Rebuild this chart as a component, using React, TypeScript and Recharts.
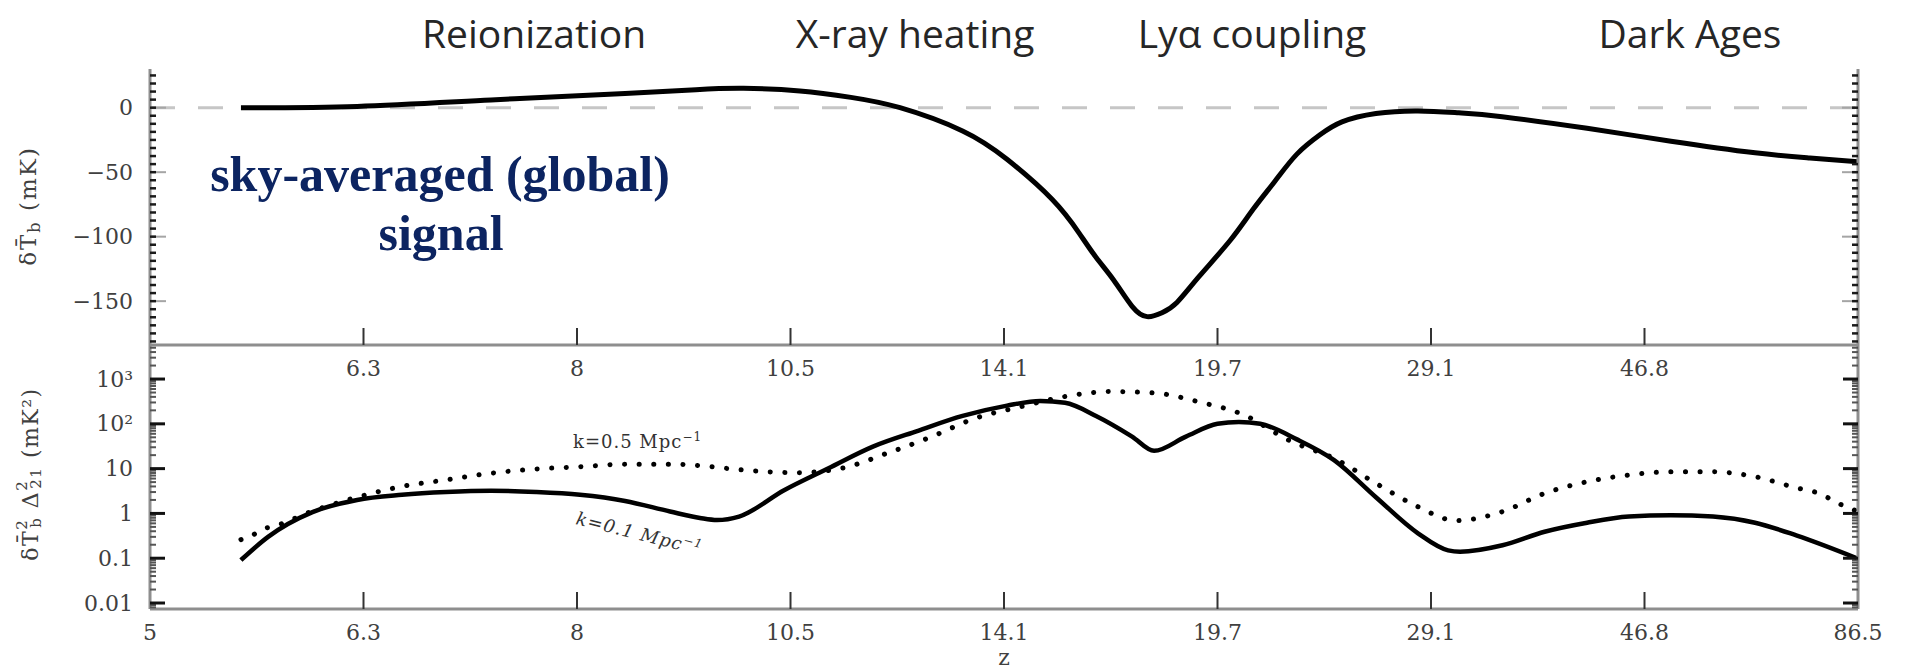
import React from 'react';
import { LineChart, Line, XAxis, YAxis, ReferenceLine } from 'recharts';

// ---------- axis categories / tick labels ----------
const Z_POS = [0, 1, 2, 3, 4, 5, 6, 7, 8];
const Z_LABELS = ['5', '6.3', '8', '10.5', '14.1', '19.7', '29.1', '46.8', '86.5'];
const TOP_Y_MAJOR = [0, -50, -100, -150];
const TOP_Y_LABELS = ['0', '\u221250', '\u2212100', '\u2212150'];
const BOT_Y_MAJOR = [0.01, 0.1, 1, 10, 100, 1000];
const BOT_Y_LABELS = ['0.01', '0.1', '1', '10', '10\u00B2', '10\u00B3'];
const PHASES = ['Reionization', 'X-ray heating', 'Ly\u03B1 coupling', 'Dark Ages'];

// ---------- series: sky-averaged brightness temperature (mK) ----------
const globalPos = [0.426, 0.97, 1.597, 2.225, 2.557, 2.78, 3.044, 3.283, 3.513, 3.806, 4.014, 4.225, 4.351, 4.431, 4.515, 4.6, 4.67, 4.74, 4.81, 4.913, 5.059, 5.166, 5.269, 5.372, 5.48, 5.583, 5.742, 5.939, 6.13, 6.333, 6.731, 7.124, 7.518, 7.775, 8.0];
const globalT = [0, 1, 6, 11, 14, 15, 13, 8, 0, -18, -40, -71, -97, -116, -134, -154, -162, -159, -151, -131, -103, -79, -57, -36, -21, -11, -4.5, -2.5, -4, -7, -16, -26, -35, -39, -42];

// ---------- series: power spectrum k=0.1 Mpc^-1 (mK^2) ----------
const k01Pos = [0.426, 0.553, 0.761, 0.97, 1.18, 1.386, 1.597, 1.808, 2.014, 2.225, 2.436, 2.576, 2.656, 2.759, 2.97, 3.178, 3.386, 3.597, 3.806, 4.014, 4.17, 4.286, 4.431, 4.6, 4.703, 4.852, 5.0, 5.1, 5.2, 5.372, 5.546, 5.742, 5.939, 6.08, 6.136, 6.335, 6.532, 6.731, 6.927, 7.124, 7.321, 7.518, 7.714, 7.995];
const k01Val = [0.091, 0.30, 1.07, 2.0, 2.6, 3.0, 3.2, 3.0, 2.6, 1.9, 1.1, 0.79, 0.71, 0.85, 3.3, 10.2, 31, 70, 150, 255, 325, 295, 150, 52, 25, 52, 100, 110, 100, 45, 15.5, 2.3, 0.36, 0.15, 0.14, 0.195, 0.39, 0.62, 0.85, 0.91, 0.85, 0.62, 0.32, 0.10];

// ---------- series: power spectrum k=0.5 Mpc^-1 (mK^2) ----------
const k05Pos = [0.426, 0.482, 0.525, 0.571, 0.759, 0.97, 1.18, 1.386, 1.597, 1.808, 2.014, 2.225, 2.436, 2.576, 2.759, 3.03, 3.241, 3.452, 3.658, 3.869, 4.077, 4.286, 4.496, 4.703, 4.913, 5.124, 5.33, 5.562, 5.742, 5.939, 6.117, 6.335, 6.532, 6.731, 6.927, 7.124, 7.321, 7.518, 7.714, 7.808, 7.93, 8.0];
const k05Val = [0.26, 0.33, 0.45, 0.50, 1.12, 2.3, 4.0, 5.6, 7.9, 9.8, 11, 12.6, 12.6, 11.7, 9.5, 8.1, 10.2, 22, 51, 135, 240, 407, 525, 490, 309, 158, 44, 15.5, 4.7, 1.41, 0.69, 1.10, 2.8, 5.1, 7.2, 8.5, 8.5, 6.6, 3.7, 2.9, 1.5, 1.1];

const globalData = globalPos.map((u, i) => ({ u, t: globalT[i] }));
const k01Data = k01Pos.map((u, i) => ({ u, p: k01Val[i] }));
const k05Data = k05Pos.map((u, i) => ({ u, p: k05Val[i] }));

// ---------- axes setup ----------
const TOP_DOMAIN: [number, number] = [-184, 30];
const BOT_DOMAIN: [number, number] = [0.00735, 5754];

const topTicks: number[] = [];
for (let v = -181.25; v <= 25.01; v += 6.25) topTicks.push(Math.round(v * 100) / 100);
const botTicks: number[] = [];
for (let d = -3; d <= 3; d++) {
  for (let m = 1; m <= 9; m++) {
    const v = m * Math.pow(10, d);
    if (v >= BOT_DOMAIN[0] && v <= BOT_DOMAIN[1]) botTicks.push(v);
  }
}

const SERIF = '"DejaVu Serif", "Liberation Serif", serif';
const LBL = '#404040';
const BORDER = '#8e8e8e';

const isDecade = (v: number) => Math.abs(Math.log10(v) - Math.round(Math.log10(v))) < 1e-6;
const decadeIndex = (v: number) => BOT_Y_MAJOR.findIndex((m) => Math.abs(m - v) / m < 1e-6);

function TopLeftTick(props: any) {
  const { x, y, payload } = props;
  const i = TOP_Y_MAJOR.indexOf(payload.value);
  const major = i >= 0;
  return (
    <g>
      {major && <line x1={x} y1={y} x2={x + 16} y2={y} stroke="#a5a5a5" strokeWidth={2} />}
      <line x1={x} y1={y} x2={x + 6} y2={y} stroke="#1a1a1a" strokeWidth={2.5} />
      {major && (
        <text x={x - 17} y={y} textAnchor="end" dominantBaseline="central" fontFamily={SERIF} fontSize={22} fill={LBL}>
          {TOP_Y_LABELS[i]}
        </text>
      )}
    </g>
  );
}
function TopRightTick(props: any) {
  const { x, y, payload } = props;
  const major = TOP_Y_MAJOR.indexOf(payload.value) >= 0;
  return (
    <g>
      {major && <line x1={x} y1={y} x2={x - 16} y2={y} stroke="#a5a5a5" strokeWidth={2} />}
      <line x1={x} y1={y} x2={x - 6} y2={y} stroke="#1a1a1a" strokeWidth={2.5} />
    </g>
  );
}
function BotLeftTick(props: any) {
  const { x, y, payload } = props;
  const v = payload.value;
  const major = isDecade(v);
  const i = major ? decadeIndex(v) : -1;
  return (
    <g>
      <line x1={x} y1={y} x2={x + (major ? 15 : 6)} y2={y} stroke={major ? '#111' : '#555'} strokeWidth={major ? 3 : 2} />
      {i >= 0 && (
        <text x={x - 17} y={y} textAnchor="end" dominantBaseline="central" fontFamily={SERIF} fontSize={22} fill={LBL}>
          {BOT_Y_LABELS[i]}
        </text>
      )}
    </g>
  );
}
function BotRightTick(props: any) {
  const { x, y, payload } = props;
  const major = isDecade(payload.value);
  return <line x1={x} y1={y} x2={x - (major ? 15 : 6)} y2={y} stroke={major ? '#111' : '#555'} strokeWidth={major ? 3 : 2} />;
}
function makeXTick(showEnds: boolean) {
  return function XTick(props: any) {
    const { x, y, payload } = props;
    const i = Z_POS.indexOf(payload.value);
    const inner = i > 0 && i < Z_POS.length - 1;
    return (
      <g>
        {inner && <line x1={x} y1={y} x2={x} y2={y - 17} stroke="#333" strokeWidth={2} />}
        {(inner || showEnds) && (
          <text x={x} y={y + 23} textAnchor="middle" dominantBaseline="central" fontFamily={SERIF} fontSize={22} fill={LBL}>
            {Z_LABELS[i]}
          </text>
        )}
      </g>
    );
  };
}
const TopXTick = makeXTick(false);
const BotXTick = makeXTick(true);

export default function App() {
  return (
    <div style={{ position: 'absolute', left: 0, top: 0, width: 1910, height: 669, background: '#fff', overflow: 'hidden' }}>
      {/* Top panel: global signal */}
      <div style={{ position: 'absolute', left: 0, top: 0 }}>
        <LineChart width={1910} height={400} margin={{ top: 69, right: 0, bottom: 0, left: 0 }}>
          <XAxis
            type="number"
            dataKey="u"
            domain={[0, 8]}
            ticks={Z_POS}
            interval={0}
            height={55}
            tickSize={0}
            tickMargin={0}
            tickLine={false}
            axisLine={{ stroke: BORDER, strokeWidth: 3 }}
            tick={<TopXTick />}
            allowDataOverflow
          />
          <XAxis xAxisId="top" orientation="top" type="number" domain={[0, 8]} height={0} tick={false} tickLine={false} axisLine={{ stroke: BORDER, strokeWidth: 3 }} allowDataOverflow />
          <YAxis
            type="number"
            domain={TOP_DOMAIN}
            ticks={topTicks}
            interval={0}
            width={150}
            tickSize={0}
            tickMargin={0}
            tickLine={false}
            axisLine={{ stroke: BORDER, strokeWidth: 3 }}
            tick={<TopLeftTick />}
            allowDataOverflow
          />
          <YAxis
            yAxisId="r"
            orientation="right"
            type="number"
            domain={TOP_DOMAIN}
            ticks={topTicks}
            interval={0}
            width={52}
            tickSize={0}
            tickMargin={0}
            tickLine={false}
            axisLine={{ stroke: BORDER, strokeWidth: 3 }}
            tick={<TopRightTick />}
            allowDataOverflow
          />
          <ReferenceLine y={0} stroke="#c6c6c6" strokeWidth={3} strokeDasharray="25 23" />
          <Line data={globalData} dataKey="t" type="natural" stroke="#000" strokeWidth={5} dot={false} isAnimationActive={false} />
        </LineChart>
      </div>

      {/* Bottom panel: power spectrum */}
      <div style={{ position: 'absolute', left: 0, top: 0 }}>
        <LineChart width={1910} height={669} margin={{ top: 345, right: 0, bottom: 0, left: 0 }}>
          <XAxis
            type="number"
            dataKey="u"
            domain={[0, 8]}
            ticks={Z_POS}
            interval={0}
            height={60}
            tickSize={0}
            tickMargin={0}
            tickLine={false}
            axisLine={{ stroke: BORDER, strokeWidth: 3 }}
            tick={<BotXTick />}
            allowDataOverflow
          />
          <XAxis xAxisId="top" orientation="top" type="number" domain={[0, 8]} height={0} tick={false} tickLine={false} axisLine={{ stroke: BORDER, strokeWidth: 3 }} allowDataOverflow />
          <YAxis
            type="number"
            scale="log"
            domain={BOT_DOMAIN}
            ticks={botTicks}
            interval={0}
            width={150}
            tickSize={0}
            tickMargin={0}
            tickLine={false}
            axisLine={{ stroke: BORDER, strokeWidth: 3 }}
            tick={<BotLeftTick />}
            allowDataOverflow
          />
          <YAxis
            yAxisId="r"
            orientation="right"
            type="number"
            scale="log"
            domain={BOT_DOMAIN}
            ticks={botTicks}
            interval={0}
            width={52}
            tickSize={0}
            tickMargin={0}
            tickLine={false}
            axisLine={{ stroke: BORDER, strokeWidth: 3 }}
            tick={<BotRightTick />}
            allowDataOverflow
          />
          <Line data={k05Data} dataKey="p" type="monotone" stroke="#000" strokeWidth={5} strokeLinecap="round" strokeDasharray="0.1 14.5" dot={false} isAnimationActive={false} />
          <Line data={k01Data} dataKey="p" type="monotone" stroke="#000" strokeWidth={4.5} dot={false} isAnimationActive={false} />
        </LineChart>
      </div>

      {/* Text overlay */}
      <svg width={1910} height={669} style={{ position: 'absolute', left: 0, top: 0, pointerEvents: 'none' }}>
        {PHASES.map((p, i) => (
          <text key={p} x={[534, 915, 1252, 1690][i]} y={48} textAnchor="middle" fontFamily='"Open Sans", sans-serif' fontSize={39} fill="#262626">
            {p}
          </text>
        ))}
        <text x={440} y={191} textAnchor="middle" fontFamily='"Liberation Serif", serif' fontWeight="bold" fontSize={50} fill="#0c2461">
          sky-averaged (global)
        </text>
        <text x={441} y={250} textAnchor="middle" fontFamily='"Liberation Serif", serif' fontWeight="bold" fontSize={50} fill="#0c2461">
          signal
        </text>
        <text transform="translate(28,206) rotate(-90)" textAnchor="middle" dominantBaseline="central" fontFamily={SERIF} fontSize={23} letterSpacing={2} fill={LBL}>
          {'\u03B4T\u0304'}
          <tspan fontSize={16} dy={6}>b</tspan>
          <tspan dy={-6}> (mK)</tspan>
        </text>
        <text transform="translate(30,474) rotate(-90)" textAnchor="middle" dominantBaseline="central" fontFamily={SERIF} fontSize={22} letterSpacing={1.5} fill={LBL}>
          {'\u03B4T\u0304'}
          <tspan fontSize={15} dy={-8}>2</tspan>
          <tspan fontSize={15} dx={-9} dy={14}>b</tspan>
          <tspan dy={-6}> {'\u0394'}</tspan>
          <tspan fontSize={15} dy={-8}>2</tspan>
          <tspan fontSize={15} dx={-9} dy={14}>21</tspan>
          <tspan dy={-6}> (mK{'\u00B2'})</tspan>
        </text>
        <text x={573} y={448} fontFamily={SERIF} fontSize={18} letterSpacing={1} fill="#333">
          k=0.5 Mpc
          <tspan fontSize={12} dy={-7}>{'\u22121'}</tspan>
        </text>
        <text x={575} y={524} transform="rotate(14, 575, 524)" fontFamily={SERIF} fontStyle="italic" fontSize={18} letterSpacing={1} fill="#333">
          k=0.1 Mpc
          <tspan fontSize={12} dy={-7}>{'\u22121'}</tspan>
        </text>
        <text x={1004} y={657} textAnchor="middle" dominantBaseline="central" fontFamily={SERIF} fontSize={22} fill={LBL}>
          z
        </text>
      </svg>
    </div>
  );
}
